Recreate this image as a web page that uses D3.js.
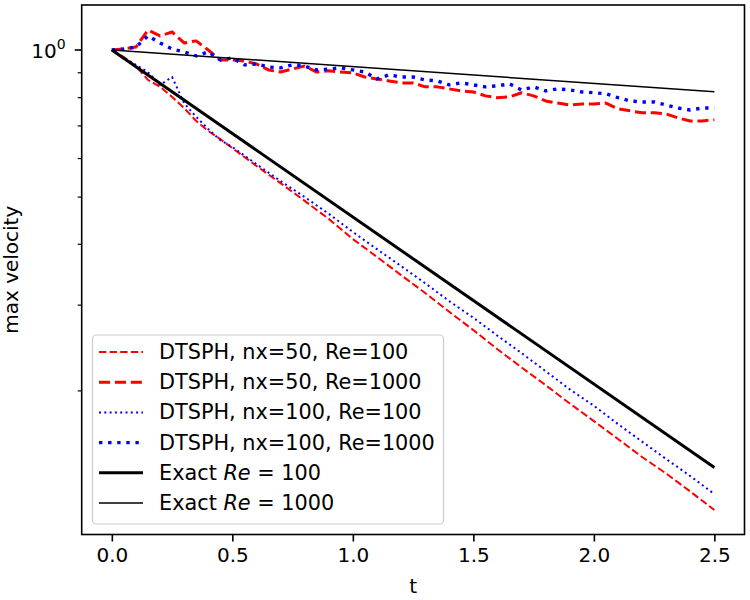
<!DOCTYPE html>
<html>
<head>
<meta charset="utf-8">
<script src="https://cdn.jsdelivr.net/npm/d3@7"></script>
<style>
  body { margin: 0; background: #fff; }
  text { font-family: "DejaVu Sans", sans-serif; }
</style>
</head>
<body>
<script>
const WIDTH = 750
const HEIGHT = 600

// time grids
const tFine = [0, 0.05, 0.1, 0.15, 0.2, 0.25, 0.3, 0.35, 0.4, 0.45, 0.5, 0.55, 0.6, 0.65, 0.7, 0.75, 0.8, 0.85, 0.9, 0.95,
  1.0, 1.05, 1.1, 1.15, 1.2, 1.25, 1.3, 1.35, 1.4, 1.45, 1.5, 1.55, 1.6, 1.65, 1.7, 1.75, 1.8, 1.85, 1.9, 1.95,
  2.0, 2.05, 2.1, 2.15, 2.2, 2.25, 2.3, 2.35, 2.4, 2.45, 2.5]
const tLow = [0, 0.05, 0.1, 0.15, 0.2, 0.25, 0.3, 0.35, 0.4, 0.45, 0.5, 0.6, 0.7, 0.8, 0.9,
  1.0, 1.1, 1.2, 1.3, 1.4, 1.5, 1.6, 1.7, 1.8, 1.9, 2.0, 2.1, 2.2, 2.3, 2.4, 2.5]
const tExact = [0, 2.5]

// max velocity
const nx50Re100 = [1.000, 0.967, 0.927, 0.868, 0.840, 0.801, 0.760, 0.715, 0.682, 0.656, 0.629, 0.578, 0.533, 0.490, 0.450,
  0.409, 0.376, 0.345, 0.317, 0.290, 0.266, 0.243, 0.223, 0.205, 0.188, 0.173, 0.159, 0.146, 0.135, 0.124, 0.1136]
const nx50Re1000 = [1.000, 1.005, 1.014, 1.099, 1.069, 1.089, 1.034, 1.044, 1.000, 0.954, 0.954, 0.949, 0.936, 0.910, 0.901, 0.914, 0.927, 0.901, 0.906, 0.901,
  0.897, 0.880, 0.872, 0.864, 0.856, 0.856, 0.840, 0.840, 0.832, 0.824, 0.820, 0.805, 0.798, 0.801, 0.817, 0.805, 0.786, 0.778, 0.771, 0.775,
  0.775, 0.778, 0.757, 0.750, 0.743, 0.743, 0.739, 0.725, 0.715, 0.715, 0.719]
const nx100Re100 = [1.000, 0.963, 0.932, 0.901, 0.848, 0.880, 0.778, 0.729, 0.688, 0.653, 0.632, 0.583, 0.538, 0.499, 0.461,
  0.423, 0.390, 0.360, 0.332, 0.305, 0.282, 0.259, 0.2386, 0.219, 0.201, 0.186, 0.1706, 0.157, 0.1446, 0.1334, 0.1225]
const nx100Re1000 = [1.000, 1.005, 1.014, 1.069, 1.034, 1.005, 0.991, 0.972, 0.991, 0.954, 0.963, 0.932, 0.936, 0.923, 0.919, 0.932, 0.927, 0.910, 0.914, 0.919,
  0.910, 0.901, 0.872, 0.889, 0.880, 0.880, 0.868, 0.864, 0.848, 0.856, 0.848, 0.840, 0.844, 0.852, 0.828, 0.840, 0.824, 0.832, 0.828, 0.820,
  0.817, 0.813, 0.798, 0.786, 0.782, 0.782, 0.771, 0.760, 0.753, 0.760, 0.760]
const exactRe100 = [1.0, 0.1389]
const exactRe1000 = [1.0, 0.8210]

const xTicks = [0, 0.5, 1.0, 1.5, 2.0, 2.5]
const yMinorTicks = [0.2, 0.3, 0.4, 0.5, 0.6, 0.7, 0.8, 0.9]

const series = [
  { t: tLow, v: nx50Re100, color: "red", width: 2, dash: "7.4,3.2", label: "DTSPH, nx=50, Re=100" },
  { t: tFine, v: nx50Re1000, color: "red", width: 3, dash: "11.1,4.8", label: "DTSPH, nx=50, Re=1000" },
  { t: tLow, v: nx100Re100, color: "blue", width: 2, dash: "2,3.3", label: "DTSPH, nx=100, Re=100" },
  { t: tFine, v: nx100Re1000, color: "blue", width: 3.4, dash: "3.4,5.7", label: "DTSPH, nx=100, Re=1000" },
  { t: tExact, v: exactRe100, color: "black", width: 3, dash: null, label: "100" },
  { t: tExact, v: exactRe1000, color: "black", width: 1.5, dash: null, label: "1000" }
]

const L = 81.7, R = 744.5, T = 5, B = 534.5

const x = d3.scaleLinear().domain([-0.125, 2.625]).range([L, R])
const y = d3.scaleLog().domain([0.1012, 1.237]).range([B, T])

const svg = d3.select("body")
  .append("svg")
  .attr("width", WIDTH)
  .attr("height", HEIGHT)

svg.append("defs").append("clipPath").attr("id", "clip")
  .append("rect").attr("x", L).attr("y", T).attr("width", R - L).attr("height", B - T)

// lines
const line = d3.line().x(d => x(d[0])).y(d => y(d[1]))
const plot = svg.append("g").attr("clip-path", "url(#clip)")
series.forEach(s => {
  plot.append("path")
    .datum(s.t.map((t, i) => [t, s.v[i]]))
    .attr("d", line)
    .attr("fill", "none")
    .attr("stroke", s.color)
    .attr("stroke-width", s.width)
    .attr("stroke-dasharray", s.dash)
    .attr("stroke-linejoin", "round")
})

// x axis
const xAxis = svg.append("g")
  .attr("transform", `translate(0,${B})`)
  .call(d3.axisBottom(x).tickValues(xTicks).tickFormat(d3.format(".1f")).tickSize(7).tickPadding(6))
xAxis.select(".domain").remove()
xAxis.selectAll("line").attr("stroke", "#000").attr("stroke-width", 1.6)
xAxis.selectAll("text").attr("font-size", 20).attr("font-family", "DejaVu Sans").attr("fill", "#000")

// y axis: minor ticks + one major tick
const yAxis = svg.append("g").attr("transform", `translate(${L},0)`)
yAxis.call(d3.axisLeft(y).tickValues(yMinorTicks).tickSize(4).tickFormat(""))
yAxis.select(".domain").remove()
yAxis.selectAll("line").attr("stroke", "#000").attr("stroke-width", 1.2)
const major = yAxis.append("g").attr("transform", `translate(0,${y(1)})`)
major.append("line").attr("x1", -7).attr("x2", 0).attr("stroke", "#000").attr("stroke-width", 1.6)
const lab = major.append("text")
  .attr("x", -16).attr("y", 8)
  .attr("text-anchor", "end")
  .attr("fill", "#000")
  .attr("font-family", "DejaVu Sans")
  .attr("font-size", 20)
lab.append("tspan").text("10")
lab.append("tspan").attr("font-size", 14).attr("dy", -9).text("0")

// frame
svg.append("rect")
  .attr("x", L).attr("y", T).attr("width", R - L).attr("height", B - T)
  .attr("fill", "none").attr("stroke", "#000").attr("stroke-width", 1.6)

// labels
svg.append("text")
  .attr("x", (L + R) / 2).attr("y", 593)
  .attr("text-anchor", "middle").attr("font-size", 20)
  .text("t")
svg.append("text")
  .attr("transform", `translate(18,${(T + B) / 2}) rotate(-90)`)
  .attr("text-anchor", "middle").attr("font-size", 20)
  .text("max velocity")

// legend
const leg = svg.append("g")
leg.append("rect")
  .attr("x", 92.5).attr("y", 335).attr("width", 351).attr("height", 189)
  .attr("rx", 4)
  .attr("fill", "#fff").attr("fill-opacity", 0.8)
  .attr("stroke", "#ccc").attr("stroke-width", 1.2)
series.forEach((s, i) => {
  const cy = 352 + i * 30.2
  leg.append("line")
    .attr("x1", 99).attr("x2", 143).attr("y1", cy).attr("y2", cy)
    .attr("stroke", s.color).attr("stroke-width", s.width)
    .attr("stroke-dasharray", s.dash)
  const txt = leg.append("text").attr("x", 159).attr("y", cy + 7).attr("font-size", 20.8)
  if (s.dash) {
    txt.text(s.label)
  } else {
    txt.append("tspan").text("Exact ")
    txt.append("tspan").attr("font-style", "italic").text("Re")
    txt.append("tspan").text(" = " + s.label)
  }
})
</script>
</body>
</html>
